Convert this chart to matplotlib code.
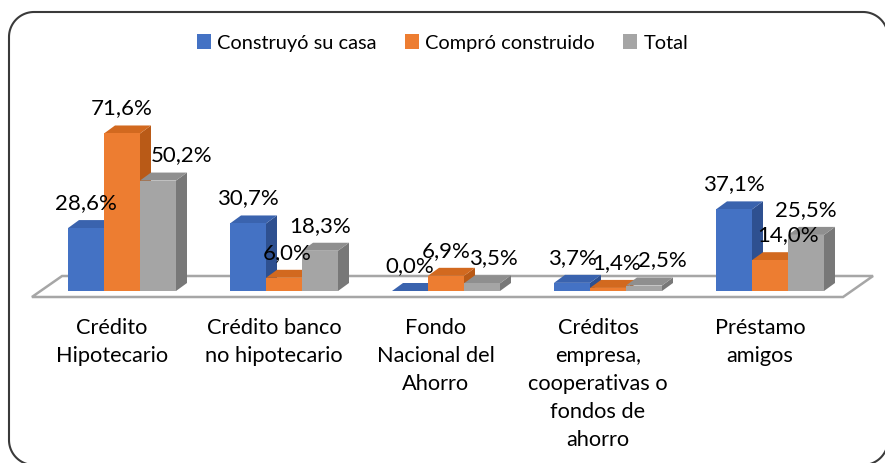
import matplotlib
matplotlib.use("Agg")
from matplotlib import pyplot as plt
from matplotlib.patches import Polygon, Patch
from matplotlib.lines import Line2D
import numpy as np

plt.rcParams['font.family'] = ['Lato', 'DejaVu Sans']

categories = ["Crédito\nHipotecario", "Crédito banco\nno hipotecario", "Fondo\nNacional del\nAhorro",
              "Créditos\nempresa,\ncooperativas o\nfondos de\nahorro", "Préstamo\namigos"]
series = ["Construyó su casa", "Compró construido", "Total"]
construyo = [28.6, 30.7, 0.0, 3.7, 37.1]
compro = [71.6, 6.0, 6.9, 1.4, 14.0]
total = [50.2, 18.3, 3.5, 2.5, 25.5]

# colors: front, top, side
colors = [("#4472C4", "#3A63AE", "#2E5090"),
          ("#ED7D31", "#D2691F", "#B95A17"),
          ("#A5A5A5", "#8F8F8F", "#787878")]

# label nudges (pixels) so the labels do not overlap, like in the original
nudge = [[0, 0, 24], [0, 3, 0], [0, 0, 11], [0, 9, 18], [0, 18, 0]]

px_x = 162.0   # pixels per category
px_y = 2.2     # pixels per percent
w = 2 / 9      # bar width
ddx = 11 / px_x
ddy = 8 / px_y

fig = plt.figure(figsize=(8.85, 4.63), dpi=100)
ax = fig.add_axes([0, 0, 1, 1])
ax.set_xlim(-122 / px_x, (885 - 122) / px_x)
ax.set_ylim(-(463 - 291) / px_y, 291 / px_y)
ax.axis("off")

# floor
n = len(categories)
fy = -6 / px_y
floor = Polygon([(-0.556, fy), (n - 0.549, fy), (n - 0.549 + 0.185, fy + 21 / px_y), (-0.37, fy + 21 / px_y)],
                closed=True, facecolor="white", edgecolor="#A6A6A6", lw=1.8, zorder=1)
ax.add_patch(floor)

data = [construyo, compro, total]
for i in range(n):
    for j in range(3):
        v = data[j][i]
        x0 = i - 1 / 3 + j * w
        front, top, side = colors[j]
        ax.add_patch(Polygon([(x0 + w, 0), (x0 + w + ddx, ddy), (x0 + w + ddx, v + ddy), (x0 + w, v)],
                             closed=True, facecolor=side, edgecolor="none", zorder=2))
        ax.add_patch(Polygon([(x0, v), (x0 + w, v), (x0 + w + ddx, v + ddy), (x0 + ddx, v + ddy)],
                             closed=True, facecolor=top, edgecolor="none", zorder=2))
        ax.add_patch(Polygon([(x0, 0), (x0 + w, 0), (x0 + w, v), (x0, v)],
                             closed=True, facecolor=front, edgecolor="none", zorder=2))
    for j in range(3):
        v = data[j][i]
        xc = i - 1 / 3 + j * w + w / 2 + nudge[i][j] / px_x
        ax.text(xc, v + 25 / px_y, ("%.1f%%" % v).replace(".", ","), ha="center", va="center",
                fontsize=16, color="black", zorder=5)
    ax.text(i - 10 / px_x, -27 / px_y, categories[i], ha="center", va="top", fontsize=15.7,
            linespacing=1.5, color="black")

handles = [Patch(facecolor=c[0], edgecolor="none") for c in colors]
fig.legend(handles, series, loc="center", bbox_to_anchor=(0.5, 1 - 43 / 463), ncol=3, frameon=False,
           fontsize=14.4, handlelength=0.72, handleheight=0.72, handletextpad=0.3, columnspacing=1.4)

# rounded border of the chart area (inches), drawn as a polyline
bx0, bx1, by0, by1, r = 0.09, 8.88, -0.02, 4.51, 0.25
t = np.linspace(0, np.pi / 2, 30)
bx = np.concatenate([bx1 - r + r * np.cos(t), bx0 + r - r * np.sin(t),
                     bx0 + r - r * np.cos(t), bx1 - r + r * np.sin(t), [bx1]])
by = np.concatenate([by1 - r + r * np.sin(t), by1 - r + r * np.cos(t),
                     by0 + r - r * np.sin(t), by0 + r - r * np.cos(t), [by1 - r]])
fig.add_artist(Line2D(bx, by, transform=fig.dpi_scale_trans, color="#3A3A3A", lw=1.5))

fig.savefig("out.png", dpi=100)
